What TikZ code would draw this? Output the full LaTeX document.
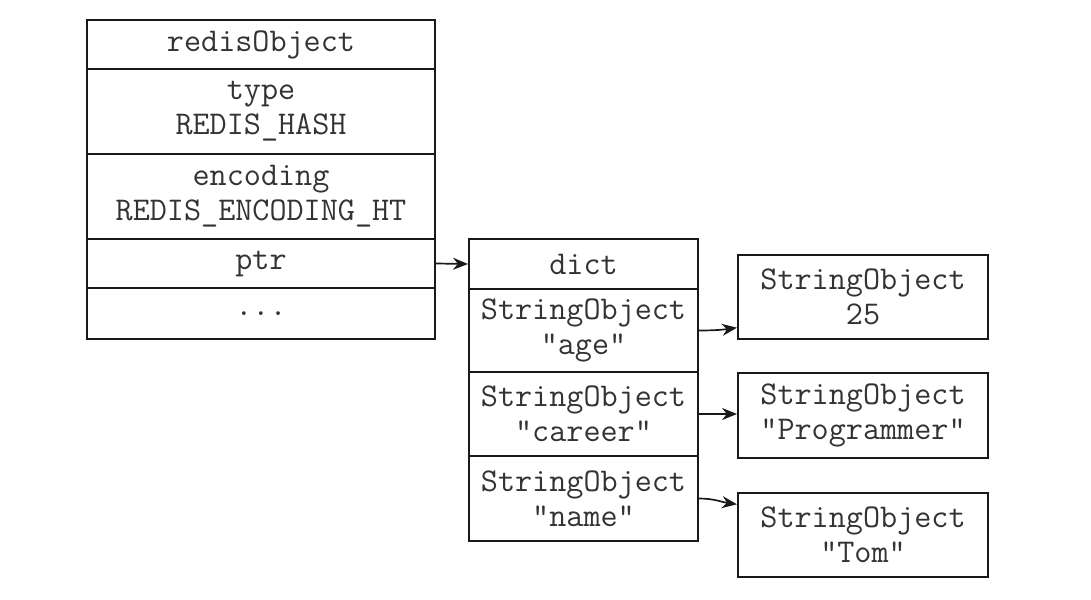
\documentclass[tikz,border=0pt]{standalone}
\usepackage{fontspec}
\usetikzlibrary{arrows.meta,calc}
\tikzset{
  cell/.style={draw=black!90, line width=1pt, rectangle, inner sep=0pt, align=center,
    font=\ttfamily\fontsize{16.6pt}{17.5pt}\selectfont, text=black!80},
  conn/.style={draw=black!90, line width=0.85pt, -{Stealth[length=7.5pt,width=6pt]}}
}
\begin{document}
\begin{tikzpicture}[x=0.5pt,y=-0.5pt]
\useasboundingbox (0,0) rectangle (1091,599);
% left table
\node[cell, minimum width=174pt, minimum height=24.5pt] (ro) at (261,44.5) {redisObject};
\node[cell, minimum width=174pt, minimum height=42.5pt] (type) at (261,111.5) {type\\REDIS\_HASH};
\node[cell, minimum width=174pt, minimum height=42.5pt] (enc) at (261,196.5) {encoding\\REDIS\_ENCODING\_HT};
\node[cell, minimum width=174pt, minimum height=24.5pt] (ptr) at (261,263.5) {ptr};
\node[cell, minimum width=174pt, minimum height=25.5pt] (dots) at (261,313.5) {...};
% dict
\node[cell, minimum width=114.5pt, minimum height=25pt] (dict) at (583.5,264) {dict};
\node[cell, minimum width=114.5pt, minimum height=41.5pt] (age) at (583.5,330.5) {StringObject\\"age"};
\node[cell, minimum width=114.5pt, minimum height=42pt] (career) at (583.5,414) {StringObject\\"career"};
\node[cell, minimum width=114.5pt, minimum height=42.5pt] (name) at (583.5,498.5) {StringObject\\"name"};
% values
\node[cell, minimum width=125pt, minimum height=42pt] (v1) at (863,297) {StringObject\\25};
\node[cell, minimum width=125pt, minimum height=42.5pt] (v2) at (863,415.5) {StringObject\\"Programmer"};
\node[cell, minimum width=125pt, minimum height=42pt] (v3) at (863,535) {StringObject\\"Tom"};
% connectors
\draw[conn] (ptr.east) -- (dict.west);
\draw[conn] (age.east) to[out=0,in=188] ($(v1.south west)!0.143!(v1.north west)$);
\draw[conn] (career.east) -- (career.east -| v2.west);
\draw[conn] (name.east) to[out=0,in=172] ($(v3.north west)!0.143!(v3.south west)$);
\end{tikzpicture}
\end{document}
